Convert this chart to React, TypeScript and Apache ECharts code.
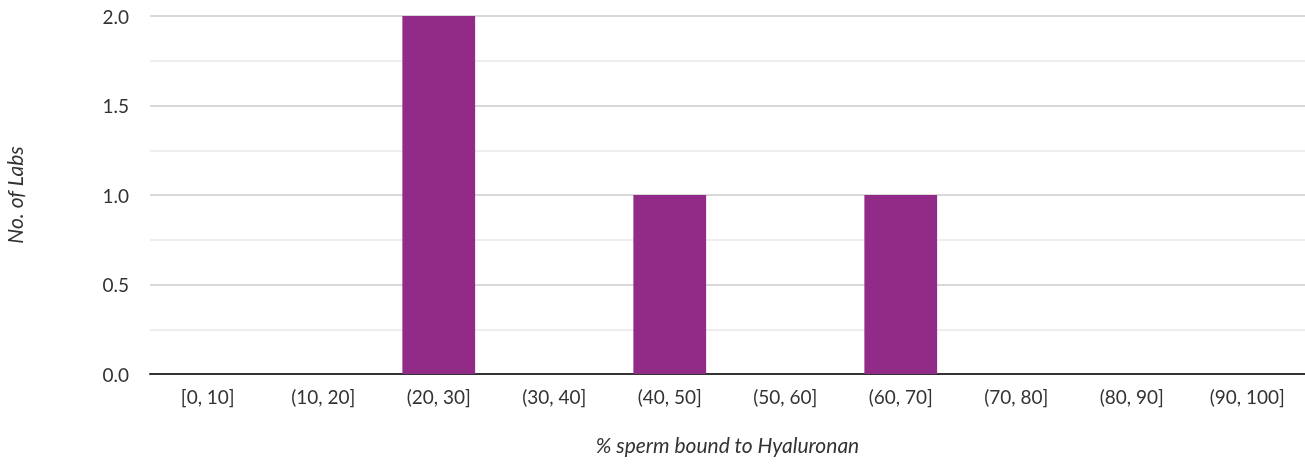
import React, { useEffect, useRef } from "react";
import * as echarts from "echarts";

const categories = ["[0, 10]", "(10, 20]", "(20, 30]", "(30, 40]", "(40, 50]", "(50, 60]", "(60, 70]", "(70, 80]", "(80, 90]", "(90, 100]"];
const labCounts = [0, 0, 2, 0, 1, 0, 1, 0, 0, 0];
const yMin = 0;
const yMax = 2;
const yInterval = 0.5;

export default function App() {
  const ref = useRef<HTMLDivElement>(null);
  useEffect(() => {
    if (!ref.current) return;
    const chart = echarts.init(ref.current, undefined, { renderer: "svg" });
    const font = "Lato, 'Open Sans', sans-serif";
    chart.setOption({
      animation: false,
      grid: { left: 150, right: 0, top: 16, bottom: 91, containLabel: false, outerBoundsMode: "none" },
      xAxis: {
        type: "category",
        data: categories,
        name: "% sperm bound to Hyaluronan",
        nameLocation: "middle",
        nameGap: 60,
        nameTextStyle: { fontFamily: font, fontSize: 21, fontStyle: "italic", color: "#333" },
        axisLine: { lineStyle: { color: "#333", width: 2 } },
        axisTick: { show: false },
        axisLabel: { fontFamily: font, fontSize: 19, color: "#333", margin: 13 },
      },
      yAxis: {
        type: "value",
        min: yMin,
        max: yMax,
        interval: yInterval,
        name: "No. of Labs",
        nameLocation: "middle",
        nameGap: 125,
        nameTextStyle: { fontFamily: font, fontSize: 21, fontStyle: "italic", color: "#333" },
        axisLine: { show: false },
        axisTick: { show: false },
        axisLabel: { fontFamily: font, fontSize: 19, color: "#333", margin: 21, formatter: (v: number) => v.toFixed(1) },
        splitLine: { lineStyle: { color: "#cccccc", width: 1.5 } },
        minorTick: { show: false, splitNumber: 2 },
        minorSplitLine: { show: true, lineStyle: { color: "#e8e8e8", width: 1.5 } },
      },
      series: [
        {
          type: "bar",
          data: labCounts,
          barWidth: "63%",
          itemStyle: { color: "#922B87" },
        },
      ],
    });
    return () => chart.dispose();
  }, []);
  return <div ref={ref} style={{ position: "fixed", left: 0, top: 0, width: 1305, height: 465 }} />;
}
